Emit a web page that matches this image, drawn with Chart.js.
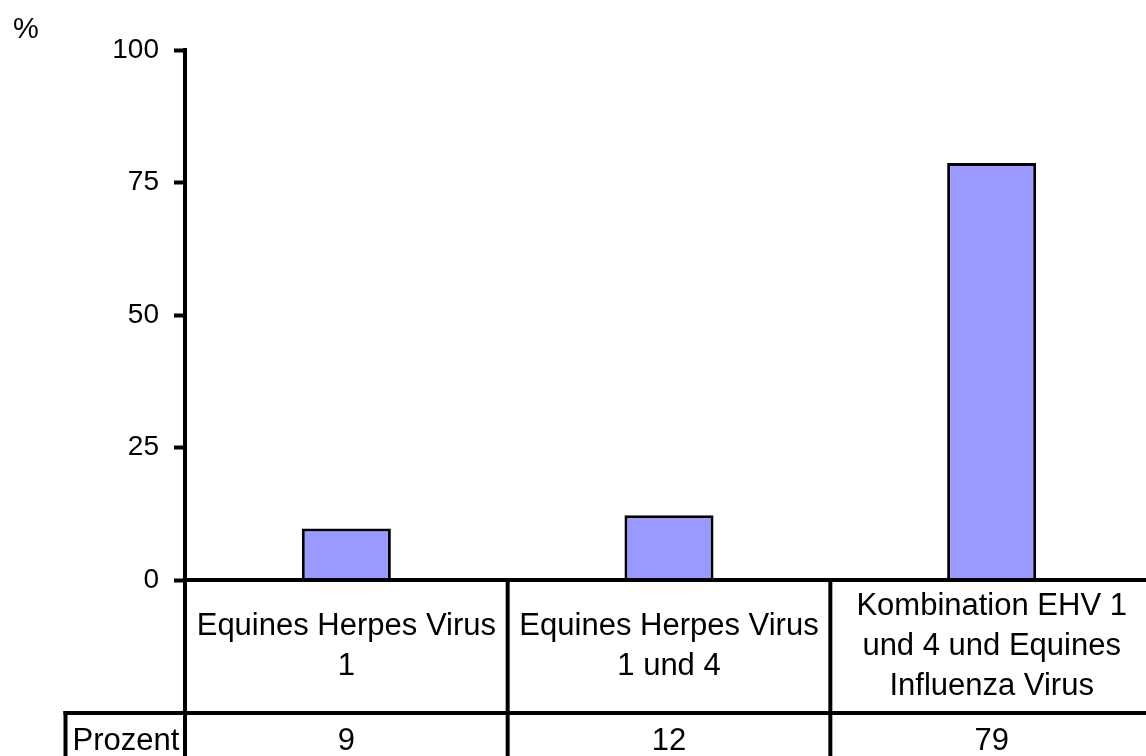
<!DOCTYPE html>
<html>
<head>
<meta charset="utf-8">
<script src="https://cdn.jsdelivr.net/npm/chart.js@4"></script>
<style>
  html, body { margin: 0; padding: 0; background: #fff; overflow: hidden; }
  #wrap { width: 1160px; height: 756px; position: relative; }
</style>
</head>
<body>
<div id="wrap"><canvas id="c"></canvas></div>
<script>
// ---- data ----
const categories = [
  ['Equines Herpes Virus', '1'],
  ['Equines Herpes Virus', '1 und 4'],
  ['Kombination EHV 1', 'und 4 und Equines', 'Influenza Virus']
];
const percentValues = [9.7, 12.2, 78.7];
const tableRowLabel = 'Prozent';
const tableValues = ['9', '12', '79'];
const yTicks = [0, 25, 50, 75, 100];
const yUnit = '%';

const FONT = "'Liberation Sans', Arial, Helvetica, sans-serif";

const tablePlugin = {
  id: 'tablePlugin',
  afterDatasetsDraw(chart) {
    const ctx = chart.ctx;
    const x = chart.scales.x;
    const y = chart.scales.y;
    const area = chart.chartArea;
    const y0 = y.getPixelForValue(0);
    const rowTop = 713;
    const H = chart.height;
    const W = chart.width;
    ctx.save();
    ctx.strokeStyle = '#000';
    ctx.lineWidth = 4;
    ctx.lineCap = 'butt';
    // zero line
    ctx.beginPath();
    ctx.moveTo(area.left, y0);
    ctx.lineTo(W, y0);
    ctx.stroke();
    // axis extension down through the table
    ctx.beginPath();
    ctx.moveTo(area.left, y0);
    ctx.lineTo(area.left, H);
    ctx.stroke();
    // category dividers
    for (let i = 0; i < categories.length - 1; i++) {
      const bx = (x.getPixelForValue(i) + x.getPixelForValue(i + 1)) / 2;
      ctx.beginPath();
      ctx.moveTo(bx, y0);
      ctx.lineTo(bx, H);
      ctx.stroke();
    }
    // right border
    ctx.beginPath();
    ctx.moveTo(area.right, y0);
    ctx.lineTo(area.right, H);
    ctx.stroke();
    // data row top line
    ctx.beginPath();
    ctx.moveTo(63.5, rowTop);
    ctx.lineTo(W, rowTop);
    ctx.stroke();
    // row label box left edge
    ctx.beginPath();
    ctx.moveTo(65.5, rowTop - 2);
    ctx.lineTo(65.5, H);
    ctx.stroke();

    // texts
    ctx.fillStyle = '#000';
    ctx.font = '31px ' + FONT;
    ctx.textAlign = 'center';
    ctx.textBaseline = 'middle';
    const cellMid = (y0 + rowTop) / 2;
    const lh = 40;
    categories.forEach((lines, i) => {
      const cx = x.getPixelForValue(i);
      const start = cellMid - (lines.length - 1) * lh / 2;
      lines.forEach((t, k) => ctx.fillText(t, cx, start + k * lh));
    });
    const valMid = 741;
    tableValues.forEach((t, i) => ctx.fillText(t, x.getPixelForValue(i), valMid));
    ctx.fillText(tableRowLabel, 126, valMid);

    // unit label
    ctx.font = '29px ' + FONT;
    ctx.textAlign = 'left';
    ctx.textBaseline = 'alphabetic';
    ctx.fillText(yUnit, 13, 38);
    ctx.restore();
  }
};

new Chart(document.getElementById('c'), {
  type: 'bar',
  data: {
    labels: categories.map(c => c.join(' ')),
    datasets: [{
      data: percentValues,
      backgroundColor: '#9999ff',
      borderColor: '#000',
      borderWidth: 3,
      barPercentage: 0.276,
      categoryPercentage: 1.0
    }]
  },
  options: {
    responsive: true,
    maintainAspectRatio: false,
    animation: false,
    devicePixelRatio: 1,
    layout: { padding: { top: 50, bottom: 176, left: 0, right: 7 } },
    plugins: { legend: { display: false }, tooltip: { enabled: false }, title: { display: false } },
    scales: {
      x: { display: false },
      y: {
        min: 0,
        max: 100,
        afterBuildTicks(scale) { scale.ticks = yTicks.map(v => ({ value: v })); },
        afterFit(scale) { scale.width = 185; },
        ticks: {
          color: '#000',
          padding: 15,
          font: { size: 28, family: FONT }
        },
        grid: {
          drawOnChartArea: false,
          drawTicks: true,
          tickLength: 11,
          tickWidth: 4,
          tickColor: '#000'
        },
        border: { display: true, color: '#000', width: 4 }
      }
    }
  },
  plugins: [tablePlugin]
});
</script>
</body>
</html>
